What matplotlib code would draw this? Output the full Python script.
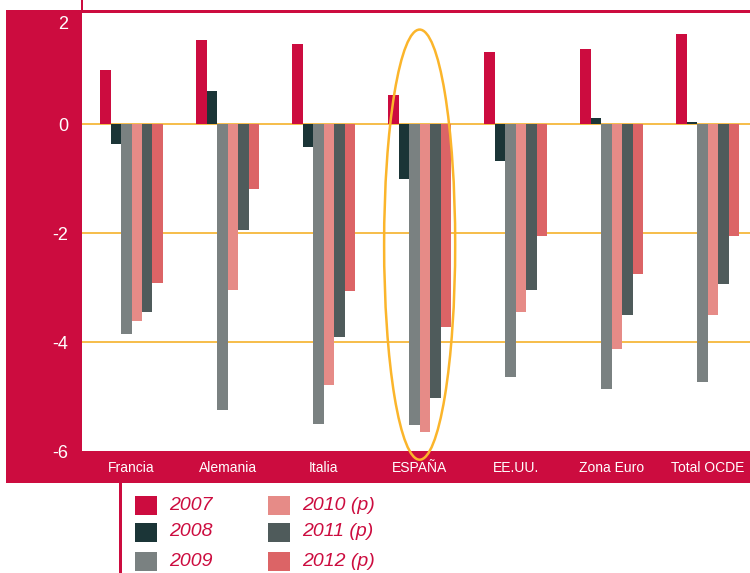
import matplotlib.pyplot as plt
import matplotlib.transforms as mtransforms
from matplotlib.patches import Rectangle, Ellipse
import numpy as np

# data
countries = ["Francia", "Alemania", "Italia", "ESPAÑA", "EE.UU.", "Zona Euro", "Total OCDE"]
series = ["2007", "2008", "2009", "2010 (p)", "2011 (p)", "2012 (p)"]
v2007 = [1.00, 1.55, 1.48, 0.54, 1.33, 1.39, 1.66]
v2008 = [-0.36, 0.61, -0.41, -1.00, -0.67, 0.12, 0.04]
v2009 = [-3.86, -5.24, -5.51, -5.53, -4.65, -4.87, -4.74]
v2010 = [-3.62, -3.04, -4.78, -5.66, -3.44, -4.12, -3.51]
v2011 = [-3.44, -1.95, -3.90, -5.02, -3.04, -3.51, -2.94]
v2012 = [-2.91, -1.18, -3.07, -3.72, -2.05, -2.74, -2.06]
yticks = [2, 0, -2, -4, -6]
gridlines = [0, -2, -4]

values = [v2007, v2008, v2009, v2010, v2011, v2012]
colors = ["#cc0c3f", "#1b3537", "#7a8181", "#e68b87", "#4f5b5b", "#dc6466"]
crimson = "#cc0c3f"
yellow = "#fbb52b"

W, H = 750, 573
fig = plt.figure(figsize=(W / 100, H / 100), dpi=100)
fig.patch.set_facecolor("white")


def px_rect(x0, y0, x1, y1, color):
    """Rectangle given in pixel coords, origin top-left."""
    fig.add_artist(Rectangle((x0 / W, 1 - y1 / H), (x1 - x0) / W, (y1 - y0) / H,
                             transform=fig.transFigure, facecolor=color,
                             edgecolor="none", zorder=0))


# crimson frame
px_rect(6, 10, 82, 483, crimson)
px_rect(6, 451, W, 483, crimson)
px_rect(82, 10, W, 12.7, crimson)
px_rect(81, 0, 83, 10, crimson)
px_rect(119, 483, 121.5, H, crimson)

ax = fig.add_axes([82 / W, 1 - 451 / H, (W - 82) / W, (451 - 12.7) / H])
ax.set_facecolor("white")
for s in ax.spines.values():
    s.set_visible(False)

x = np.arange(len(countries))
w = 0.109
for g in gridlines:
    ax.axhline(g, color="#f6bd4a", lw=1.4, zorder=1)
for j, (vals, c) in enumerate(zip(values, colors)):
    ax.bar(x + (j - 2.5) * w, vals, width=w, color=c, zorder=2, edgecolor="none")

ax.add_patch(Ellipse((3, -2.21), 0.74, 7.9, facecolor="none", edgecolor=yellow,
                     lw=1.8, zorder=3, clip_on=False))

ax.set_xlim(-0.516, 6.44)
ax.set_ylim(-6, 2.05)
ax.set_yticks(yticks)
ax.set_yticklabels([str(t) for t in yticks], color="white", fontsize=13,
                   family=["Liberation Sans", "DejaVu Sans"])
ax.set_xticks(x)
ax.set_xticklabels(countries, color="white", fontsize=10,
                   family=["Liberation Sans", "DejaVu Sans"])
ax.tick_params(axis="y", length=0, pad=10)
ax.tick_params(axis="x", length=0, pad=7)
# top label sits a bit lower in the original
top = ax.get_yticklabels()[0]
top.set_transform(top.get_transform() + mtransforms.ScaledTranslation(0, -7 / 100, fig.dpi_scale_trans))

# legend, built by hand
rows = [505.5, 532, 561]
cols = [(135, 169), (268, 302)]
for k, (lab, c) in enumerate(zip(series, colors)):
    sx, tx = cols[k // 3]
    cy = rows[k % 3]
    px_rect(sx, cy - 9.5, sx + 22, cy + 9.5, c)
    fig.text(tx / W, 1 - cy / H, lab, color=crimson, fontsize=14, style="italic",
             va="center", ha="left", family=["Liberation Sans", "DejaVu Sans"])

fig.savefig("out.png", dpi=100)
